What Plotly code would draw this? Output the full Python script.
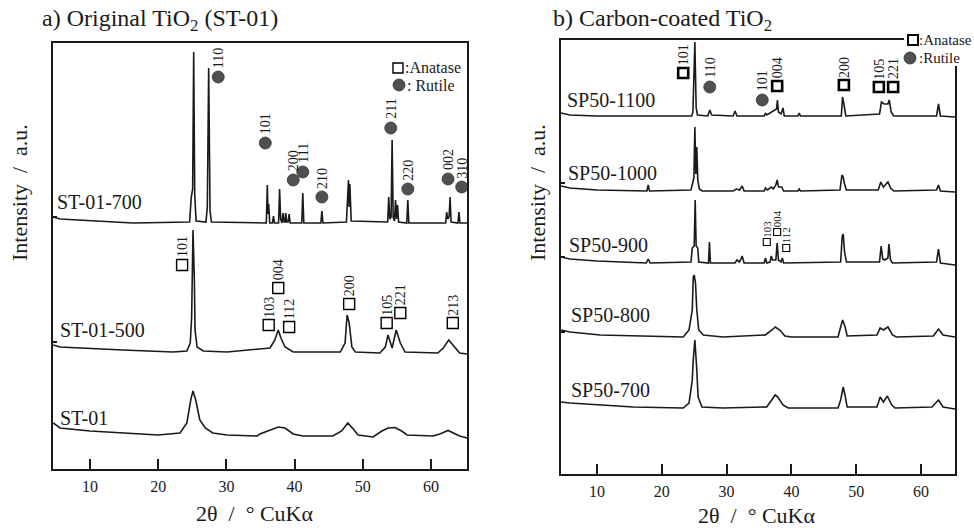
import plotly.graph_objects as go

# ---------------- data (2theta in degrees, stacked intensity in a.u.) ----------------
TICK_2THETA = [10, 20, 30, 40, 50, 60]
TICK_LABELS = ["10", "20", "30", "40", "50", "60"]

# panel a) original TiO2
ST01 = [(4.6, 46), (5.6, 41), (10.0, 38), (14.8, 36), (20.0, 34), (23.2, 36), (24.2, 46), (24.8, 70),
        (25.1, 78), (25.5, 69), (26.1, 49), (26.9, 41), (28.0, 36), (30.1, 34), (34.5, 33), (34.9, 35),
        (36.4, 39), (37.6, 42), (38.6, 41), (39.8, 35), (41.2, 33), (45.6, 33), (46.9, 38), (47.8, 46),
        (48.6, 40), (49.3, 34), (51.5, 32), (52.8, 38), (53.7, 41), (54.7, 41.5), (55.7, 38), (56.5, 34),
        (60.3, 33), (61.3, 35), (62.5, 38.5), (63.5, 35), (64.2, 33), (65.3, 31)]

ST01_500 = [(4.6, 124), (5.6, 122), (14.8, 119), (22.2, 117), (24.2, 118), (24.7, 126), (24.9, 152),
            (25.1, 239), (25.3, 189), (25.4, 139), (25.7, 122), (26.6, 118), (30.1, 117), (36.4, 121),
            (37.1, 129), (37.6, 139), (38.0, 131), (38.6, 122), (39.8, 117), (46.7, 117), (47.4, 126),
            (47.7, 154), (48.0, 146), (48.4, 122), (48.9, 117), (52.5, 116), (53.3, 122), (53.7, 134),
            (54.3, 121), (54.9, 139), (55.5, 126), (56.2, 117), (61.0, 116), (61.8, 121), (62.6, 129),
            (63.5, 121), (64.2, 116), (65.3, 115)]

ST01_700 = [(4.6, 252), (5.6, 250), (16.3, 246), (24.6, 247), (24.85, 272), (25.05, 280), (25.2, 417),
            (25.35, 275), (25.55, 248), (27.0, 247), (27.2, 262), (27.4, 401), (27.6, 258), (27.8, 247),
            (35.85, 246), (36.0, 284), (36.1, 255), (36.2, 265), (36.35, 246), (36.75, 246), (36.9, 253),
            (37.05, 246), (37.65, 246), (37.8, 280), (37.95, 250), (38.15, 246), (38.3, 256), (38.45, 247),
            (38.6, 247), (38.7, 256), (38.85, 247), (39.05, 247), (39.2, 255), (39.35, 246), (41.05, 246),
            (41.2, 276), (41.35, 246), (43.85, 246), (44.0, 258), (44.15, 246), (47.6, 247), (47.9, 289),
            (48.0, 262), (48.1, 285), (48.3, 248), (53.65, 247), (53.8, 272), (53.95, 250), (54.15, 252),
            (54.3, 329), (54.45, 252), (54.65, 248), (54.8, 269), (54.95, 250), (55.1, 264), (55.25, 247),
            (56.45, 246), (56.6, 269), (56.75, 246), (62.15, 246), (62.3, 257), (62.45, 250), (62.65, 252),
            (62.8, 272), (62.95, 247), (63.95, 246), (64.1, 257), (64.25, 246), (65.3, 246)]

# panel b) carbon-coated TiO2
SP50_700 = [(4.44, 72), (5.8, 71), (15.6, 67), (23.3, 66), (24.2, 71), (24.7, 94), (24.85, 114), (25.1, 134),
            (25.4, 104), (25.6, 77), (26.2, 67), (29.4, 66), (36.2, 67), (37.0, 74), (37.5, 79), (37.9, 77),
            (38.7, 69), (39.5, 66), (47.2, 66), (47.6, 74), (48.0, 87), (48.3, 78), (48.6, 67), (53.2, 67),
            (53.7, 77), (54.2, 72), (54.8, 78), (55.5, 69), (56.0, 66), (61.7, 67), (62.7, 74), (63.4, 67),
            (65.25, 65)]

SP50_800 = [(4.44, 144), (5.8, 142), (10.5, 139), (23.3, 137), (24.2, 144), (24.7, 164), (24.85, 197),
            (25.0, 199), (25.2, 191), (25.4, 164), (25.7, 144), (26.4, 139), (29.4, 137), (36.0, 139),
            (37.0, 144), (37.5, 147), (38.2, 144), (39.0, 138), (40.0, 137), (47.2, 137), (47.6, 147),
            (47.9, 154), (48.3, 147), (48.6, 138), (53.2, 139), (53.7, 146), (54.2, 144), (54.9, 147),
            (55.6, 139), (56.2, 137), (61.9, 138), (62.7, 145), (63.4, 139), (65.25, 137)]

SP50_900 = [(4.44, 217), (5.8, 215), (10.0, 213), (15.0, 212), (17.6, 211), (17.9, 215), (18.2, 211),
            (24.5, 212), (24.7, 226), (25.0, 228), (25.15, 274), (25.3, 228), (25.55, 226), (25.7, 212),
            (27.2, 211), (27.35, 232), (27.5, 211), (31.3, 211), (31.6, 214), (32.0, 212), (32.4, 218),
            (32.7, 211), (35.8, 211), (36.0, 216), (36.2, 211), (36.7, 212), (36.9, 218), (37.1, 214),
            (37.6, 214), (37.8, 231), (38.0, 214), (38.4, 212), (38.6, 216), (38.8, 211), (47.6, 212),
            (47.85, 238), (48.0, 240), (48.2, 222), (48.5, 212), (53.6, 212), (53.85, 228), (54.1, 215),
            (54.4, 214), (54.9, 216), (55.05, 230), (55.3, 214), (55.6, 211), (62.4, 212), (62.7, 225),
            (63.0, 211), (65.25, 209)]

SP50_1000 = [(4.44, 288), (5.8, 286), (10.0, 284), (15.0, 283), (17.7, 283), (17.9, 289), (18.1, 283),
             (24.5, 284), (24.75, 292), (24.95, 296), (25.1, 347), (25.25, 300), (25.4, 327), (25.55, 294),
             (25.8, 285), (26.2, 283), (31.0, 283), (31.5, 285), (32.0, 284), (32.4, 288), (32.7, 283),
             (35.8, 283), (36.0, 286), (36.3, 284), (36.9, 287), (37.2, 285), (37.6, 289), (37.8, 294),
             (38.0, 287), (38.5, 287), (38.8, 283), (41.0, 283), (41.2, 285), (41.4, 283), (47.5, 284),
             (47.8, 299), (48.0, 297), (48.2, 290), (48.5, 284), (53.4, 284), (53.8, 292), (54.2, 287),
             (54.9, 292), (55.3, 286), (55.8, 283), (62.4, 284), (62.7, 289), (63.0, 283), (65.25, 282)]

SP50_1100 = [(4.44, 361), (5.8, 359), (10.0, 358), (24.6, 358), (24.8, 362), (25.1, 432), (25.3, 366),
             (25.5, 359), (27.1, 358), (27.4, 364), (27.7, 359), (31.0, 358), (31.3, 363), (31.6, 358),
             (35.8, 358), (36.0, 361), (36.2, 359), (37.0, 362), (37.7, 365), (37.85, 374), (38.0, 362),
             (38.4, 360), (38.7, 366), (38.9, 358), (41.0, 358), (41.2, 361), (41.4, 358), (47.7, 358),
             (47.9, 377), (48.1, 370), (48.4, 358), (53.6, 360), (53.9, 372), (54.3, 370), (54.9, 370),
             (55.1, 374), (55.4, 362), (55.8, 358), (62.4, 358), (62.7, 370), (63.0, 358), (65.25, 357)]

# sample labels: (text, 2theta, intensity) of label start
LEFT_SAMPLES = [("ST-01-700", 4.9, 267), ("ST-01-500", 5.3, 139), ("ST-01", 5.3, 51)]
RIGHT_SAMPLES = [("SP50-1100", 5.1, 374), ("SP50-1000", 5.2, 301), ("SP50-900", 5.3, 229),
                 ("SP50-800", 5.6, 159), ("SP50-700", 5.7, 84)]

# peak index markers: (2theta, intensity, hkl)
ANATASE_LEFT = [(23.5, 204, "101"), (36.2, 144, "103"), (37.6, 181, "004"), (39.2, 142, "112"),
                (48.0, 165, "200"), (53.5, 146, "105"), (55.5, 156, "221"), (63.2, 146, "213")]
RUTILE_LEFT = [(28.8, 392, "110"), (35.7, 326, "101"), (39.8, 289, "200"), (41.2, 297, "111"),
               (44.0, 272, "210"), (54.1, 341, "211"), (56.6, 280, "220"), (62.5, 290, "002"),
               (64.5, 282, "310")]
ANATASE_RIGHT = [(23.3, 401, "101"), (37.8, 388, "004"), (48.1, 389, "200"), (53.5, 387, "105"),
                 (55.7, 387, "221")]
RUTILE_RIGHT = [(27.4, 387, "110"), (35.5, 374, "101")]
ANATASE_900 = [(36.2, 232, "103"), (37.8, 242, "004"), (39.2, 226, "112")]

# ---------------- figure ----------------
W, H = 974, 528
SERIF = "Liberation Serif"
INK = "#1a1a1a"


def px(p):
    return p / W


def py(p):
    return 1 - p / H


fig = go.Figure()


def add_curve(pts, xa, ya):
    fig.add_trace(go.Scatter(x=[p[0] for p in pts], y=[p[1] for p in pts], mode="lines",
                             line=dict(color=INK, width=1.6), xaxis=xa, yaxis=ya,
                             showlegend=False, hoverinfo="skip", cliponaxis=True))


for pts in (ST01, ST01_500, ST01_700):
    add_curve(pts, "x", "y")
for pts in (SP50_700, SP50_800, SP50_900, SP50_1000, SP50_1100):
    add_curve(pts, "x2", "y2")

annotations = []


def add_markers(items, xa, ya, symbol, size, color, lw, fsize, shift):
    if symbol == "square-open":
        marker = dict(symbol=symbol, size=size, color=color, line=dict(width=lw, color=color))
    else:
        marker = dict(symbol=symbol, size=size, color=color, line=dict(width=0.8, color="#333"))
    fig.add_trace(go.Scatter(x=[i[0] for i in items], y=[i[1] for i in items], mode="markers",
                             marker=marker, xaxis=xa, yaxis=ya, showlegend=False, hoverinfo="skip",
                             cliponaxis=False))
    for xx, yy, t in items:
        annotations.append(dict(x=xx, y=yy, xref=xa, yref=ya, text=t, showarrow=False, textangle=-90,
                                yshift=shift, xanchor="center", yanchor="middle",
                                font=dict(family=SERIF, size=fsize, color=INK)))


add_markers(ANATASE_LEFT, "x", "y", "square-open", 11, "black", 1.4, 14, 18)
add_markers(RUTILE_LEFT, "x", "y", "circle", 12, "#505050", 0, 14, 19)
add_markers(ANATASE_RIGHT, "x2", "y2", "square-open", 10, "black", 2.6, 14, 18)
add_markers(RUTILE_RIGHT, "x2", "y2", "circle", 12, "#505050", 0, 14, 19)
add_markers(ANATASE_900, "x2", "y2", "square-open", 7, "black", 1.1, 11, 13)

for name, xx, yy in LEFT_SAMPLES:
    annotations.append(dict(x=xx, y=yy, xref="x", yref="y", text=name, showarrow=False,
                            xanchor="left", yanchor="middle", font=dict(family=SERIF, size=20, color=INK)))
for name, xx, yy in RIGHT_SAMPLES:
    annotations.append(dict(x=xx, y=yy, xref="x2", yref="y2", text=name, showarrow=False,
                            xanchor="left", yanchor="middle", font=dict(family=SERIF, size=20, color=INK)))

# titles
annotations += [
    dict(x=px(40), y=py(20), xref="paper", yref="paper", text="a) Original TiO<sub>2</sub> (ST-01)",
         showarrow=False, xanchor="left", yanchor="middle", font=dict(family=SERIF, size=24, color=INK)),
    dict(x=px(551), y=py(20), xref="paper", yref="paper", text="b) Carbon-coated TiO<sub>2</sub>",
         showarrow=False, xanchor="left", yanchor="middle", font=dict(family=SERIF, size=24, color=INK)),
    dict(x=px(255), y=py(513), xref="paper", yref="paper", text="2θ  /  ° CuKα",
         showarrow=False, xanchor="center", yanchor="middle", font=dict(family=SERIF, size=22, color=INK)),
    dict(x=px(757), y=py(515), xref="paper", yref="paper", text="2θ  /  ° CuKα",
         showarrow=False, xanchor="center", yanchor="middle", font=dict(family=SERIF, size=22, color=INK)),
    dict(x=px(20), y=py(193), xref="paper", yref="paper", text="Intensity  /  a.u.", textangle=-90,
         showarrow=False, xanchor="center", yanchor="middle", font=dict(family=SERIF, size=22, color=INK)),
    dict(x=px(538), y=py(193), xref="paper", yref="paper", text="Intensity  /  a.u.", textangle=-90,
         showarrow=False, xanchor="center", yanchor="middle", font=dict(family=SERIF, size=22, color=INK)),
]

# legend texts
annotations += [
    dict(x=px(403), y=py(67), xref="paper", yref="paper", text=":Anatase", showarrow=False,
         xanchor="left", yanchor="middle", font=dict(family=SERIF, size=16, color=INK)),
    dict(x=px(405), y=py(85), xref="paper", yref="paper", text=": Rutile", showarrow=False,
         xanchor="left", yanchor="middle", font=dict(family=SERIF, size=16, color=INK)),
    dict(x=px(917), y=py(40), xref="paper", yref="paper", text=":Anatase", showarrow=False,
         xanchor="left", yanchor="middle", font=dict(family=SERIF, size=15, color=INK)),
    dict(x=px(917), y=py(58), xref="paper", yref="paper", text=":Rutile", showarrow=False,
         xanchor="left", yanchor="middle", font=dict(family=SERIF, size=15, color=INK)),
]

shapes = [
    # white patch behind right legend (covers frame corner)
    dict(type="rect", xref="paper", yref="paper", x0=px(904), x1=1.0, y0=py(66), y1=py(28),
         fillcolor="white", line=dict(width=0), layer="above"),
    # legend symbols
    dict(type="rect", xref="paper", yref="paper", x0=px(393), x1=px(403), y0=py(73), y1=py(63),
         fillcolor="white", line=dict(color="black", width=1.4), layer="above"),
    dict(type="circle", xref="paper", yref="paper", x0=px(393), x1=px(405), y0=py(91), y1=py(79),
         fillcolor="#505050", line=dict(color="#333", width=0.8), layer="above"),
    dict(type="rect", xref="paper", yref="paper", x0=px(908), x1=px(918), y0=py(45), y1=py(35),
         fillcolor="white", line=dict(color="black", width=2), layer="above"),
    dict(type="circle", xref="paper", yref="paper", x0=px(904), x1=px(916), y0=py(64), y1=py(52),
         fillcolor="#505050", line=dict(color="#333", width=0.8), layer="above"),
]


def xaxis(dom, rng, anchor):
    return dict(domain=dom, range=rng, anchor=anchor, tickvals=TICK_2THETA, ticktext=TICK_LABELS,
                ticks="inside", ticklen=10, tickwidth=2, tickcolor=INK, showline=True, linewidth=2,
                linecolor=INK, mirror=True, showgrid=False, zeroline=False, ticklabelstandoff=2,
                tickfont=dict(family=SERIF, size=16, color=INK))


def yaxis(dom, rng, anchor, tv):
    return dict(domain=dom, range=rng, anchor=anchor, tickvals=tv, showticklabels=False,
                ticks="inside", ticklen=4, tickwidth=1.5, tickcolor=INK, showline=True, linewidth=2,
                linecolor=INK, mirror=True, showgrid=False, zeroline=False)


fig.update_layout(
    width=W, height=H, margin=dict(l=0, r=0, t=0, b=0),
    paper_bgcolor="white", plot_bgcolor="white", showlegend=False,
    xaxis=xaxis([px(53), px(467)], [4.57, 65.28], "y"),
    yaxis=yaxis([py(469), py(43)], [0, 426], "x", [127, 252]),
    xaxis2=xaxis([px(561), px(955)], [4.44, 65.25], "y2"),
    yaxis2=yaxis([py(474), py(40)], [0, 434], "x2", [142, 217, 291]),
    annotations=annotations, shapes=shapes,
)

fig.write_html("out.html", config={"displayModeBar": False, "staticPlot": True},
               post_script="document.body.style.margin='0';document.body.style.overflow='hidden';")
